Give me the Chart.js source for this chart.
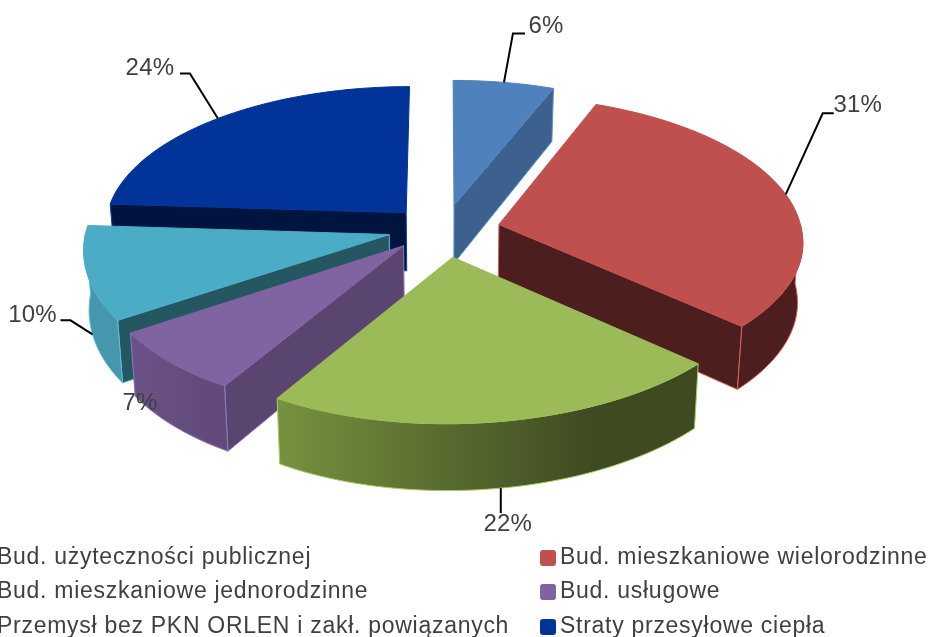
<!DOCTYPE html>
<html>
<head>
<meta charset="utf-8">
<style>
  html, body { margin: 0; background: #fff; overflow: hidden; }
  #chart { display: block; }
</style>
<script src="https://cdn.jsdelivr.net/npm/chart.js@4"></script>
</head>
<body>
<canvas id="chart" width="929" height="637" style="width:929px;height:637px"></canvas>
<script>
const categories = [
  'Bud. użyteczności publicznej',
  'Bud. mieszkaniowe wielorodzinne',
  'Bud. mieszkaniowe jednorodzinne',
  'Bud. usługowe',
  'Przemysł bez PKN ORLEN i zakł. powiązanych',
  'Straty przesyłowe ciepła'
];
const percents = [6, 31, 22, 7, 10, 24];

// colours per slice
const faceColors = ['#4f81bd', '#c0504d', '#9bbb59', '#8064a2', '#4bacc6', '#023399'];
const cutColors = ['#3c618e', '#4c1e1d', '#3f4a21', '#5a4571', '#255763', '#001440'];
const rimLeft = ['#3c618e', '#4c1e1d', '#76923f', '#6b5288', '#4497ad', '#001440'];
const rimRight = ['#3c618e', '#4c1e1d', '#3f4a21', '#624b7c', '#4497ad', '#001440'];
const edgeColors = ['#5b90d0', '#d9605c', '#a9cc60', '#9079b5', '#58c0da', '#0a3fb0'];

// back to front
const drawOrder = [5, 0, 4, 3, 1, 2];

// small per-slice shift, the exploded slices are not quite even in the original
const nudgeX = [-1, 1, 0, -3, -3, -2];
const nudgeY = [-1, -1, 0, -4, -3, 0];

// leader elbow / label placement relative to the slice anchor
const leaderShape = [
  { z: 0, pts: [[9, -49], [21, -49]], text: [42, -56] },
  { z: 0, pts: [[37, -81], [48, -81]], text: [72, -89] },
  { z: 1, pts: [[0, 25]], text: [7, 36] },
  { z: 0, pts: [], text: [0, 0], fixed: [140, 403] },
  { z: 1, pts: [[-22, -14], [-32, -14]], text: [-60, -19] },
  { z: 0, pts: [[-28, -45], [-38, -45]], text: [-68, -50] }
];

const EXPLODE = 0.18, PERSPECTIVE = 0.1, DEPTH = 59, STRETCH_X = 1.31, STRETCH_Y = 0.615;
const TEXT_COLOR = '#404040';
const LABEL_FONT = '24px "Liberation Sans", Arial, sans-serif';
const LEGEND_FONT = '23px "Liberation Sans", Arial, sans-serif';

function project(el, i, angle, r, z) {
  const mid = (el.startAngle + el.endAngle) / 2 + Math.PI / 2;
  const u = EXPLODE * Math.sin(mid) + r * Math.sin(angle);
  const v = EXPLODE * Math.cos(mid) + r * Math.cos(angle);
  const w = 1 + PERSPECTIVE * v;
  const shrink = 1 - 0.015 * z;
  // the original's front half leans slightly to the right
  const front = Math.max(0, -v);
  return {
    x: el.x + nudgeX[i] + STRETCH_X * el.outerRadius * u / w * shrink + 5 * front,
    y: el.y + nudgeY[i] - STRETCH_Y * el.outerRadius * v / w + z * DEPTH / w + front * (2.5 - 5.5 * u)
  };
}

function poly(ctx, pts, fill, stroke) {
  ctx.beginPath();
  pts.forEach((p, i) => i ? ctx.lineTo(p.x, p.y) : ctx.moveTo(p.x, p.y));
  ctx.closePath();
  ctx.fillStyle = fill;
  ctx.fill();
  ctx.strokeStyle = stroke;
  ctx.lineWidth = 1;
  ctx.stroke();
}

function arcPoints(el, i, a0, a1, z) {
  const pts = [];
  const n = Math.max(2, Math.ceil((a1 - a0) / 0.03));
  for (let k = 0; k <= n; k++) pts.push(project(el, i, a0 + (a1 - a0) * k / n, 1, z));
  return pts;
}

function cutWall(el, i, a) {
  return [project(el, i, a, 0, 0), project(el, i, a, 1, 0), project(el, i, a, 1, 1), project(el, i, a, 0, 1)];
}

function drawSlice(ctx, el, i) {
  const a0 = el.startAngle + Math.PI / 2;
  const a1 = el.endAngle + Math.PI / 2;

  // cut walls, only the ones facing the viewer
  if (Math.sin(a0) < -0.01) poly(ctx, cutWall(el, i, a0), cutColors[i], edgeColors[i]);
  if (Math.sin(a1) > 0.01) poly(ctx, cutWall(el, i, a1), cutColors[i], edgeColors[i]);

  // outer wall, front half of the circle only
  const from = Math.max(a0, Math.PI / 2);
  const to = Math.min(a1, Math.PI * 1.5);
  if (to > from) {
    const top = arcPoints(el, i, from, to, 0);
    const bottom = arcPoints(el, i, from, to, 1).reverse();
    const xs = top.map(p => p.x);
    const grad = ctx.createLinearGradient(Math.min(...xs), 0, Math.max(...xs), 0);
    grad.addColorStop(0, rimLeft[i]);
    grad.addColorStop(0.75, rimRight[i]);
    grad.addColorStop(1, rimRight[i]);
    poly(ctx, top.concat(bottom), grad, edgeColors[i]);
  }

  // top face
  poly(ctx, [project(el, i, a0, 0, 0)].concat(arcPoints(el, i, a0, a1, 0)), faceColors[i], faceColors[i]);
}

function drawLabel(ctx, el, i) {
  const shape = leaderShape[i];
  const mid = (el.startAngle + el.endAngle) / 2 + Math.PI / 2;
  const anchor = project(el, i, mid, 1, shape.z);
  ctx.font = LABEL_FONT;
  ctx.letterSpacing = '0.2px';
  ctx.fillStyle = TEXT_COLOR;
  ctx.textAlign = 'center';
  ctx.textBaseline = 'middle';
  if (shape.pts.length) {
    ctx.beginPath();
    ctx.moveTo(anchor.x, anchor.y);
    shape.pts.forEach(p => ctx.lineTo(anchor.x + p[0], anchor.y + p[1]));
    ctx.strokeStyle = '#000';
    ctx.lineWidth = 2;
    ctx.stroke();
  }
  const tx = shape.fixed ? shape.fixed[0] : anchor.x + shape.text[0];
  const ty = shape.fixed ? shape.fixed[1] : anchor.y + shape.text[1];
  ctx.fillText(percents[i] + '%', tx, ty);
}

function drawLegend(ctx) {
  const columns = [-3, 560];
  const rows = [558, 592, 627];
  ctx.font = LEGEND_FONT;
  ctx.letterSpacing = '0.72px';
  ctx.textAlign = 'left';
  ctx.textBaseline = 'middle';
  categories.forEach((name, i) => {
    const x = columns[i % 2];
    const y = rows[Math.floor(i / 2)];
    ctx.fillStyle = faceColors[i];
    ctx.beginPath();
    ctx.roundRect(x - 20, y - 8, 16, 16, 3);
    ctx.fill();
    ctx.fillStyle = TEXT_COLOR;
    ctx.fillText(name, x, y);
  });
}

const pie3d = {
  id: 'pie3d',
  beforeDatasetDraw(chart, args) {
    const ctx = chart.ctx;
    const arcs = args.meta.data;
    ctx.save();
    drawOrder.forEach(i => drawSlice(ctx, arcs[i], i));
    drawOrder.forEach(i => drawLabel(ctx, arcs[i], i));
    drawLegend(ctx);
    ctx.restore();
    return false;
  }
};

new Chart(document.getElementById('chart'), {
  type: 'pie',
  data: {
    labels: categories,
    datasets: [{ data: percents, backgroundColor: faceColors, borderWidth: 0 }]
  },
  options: {
    responsive: false,
    animation: false,
    devicePixelRatio: 1,
    layout: { padding: { left: 0, top: 0, right: 39, bottom: 175 } },
    plugins: { legend: { display: false }, tooltip: { enabled: false } }
  },
  plugins: [pie3d]
});
</script>
</body>
</html>
